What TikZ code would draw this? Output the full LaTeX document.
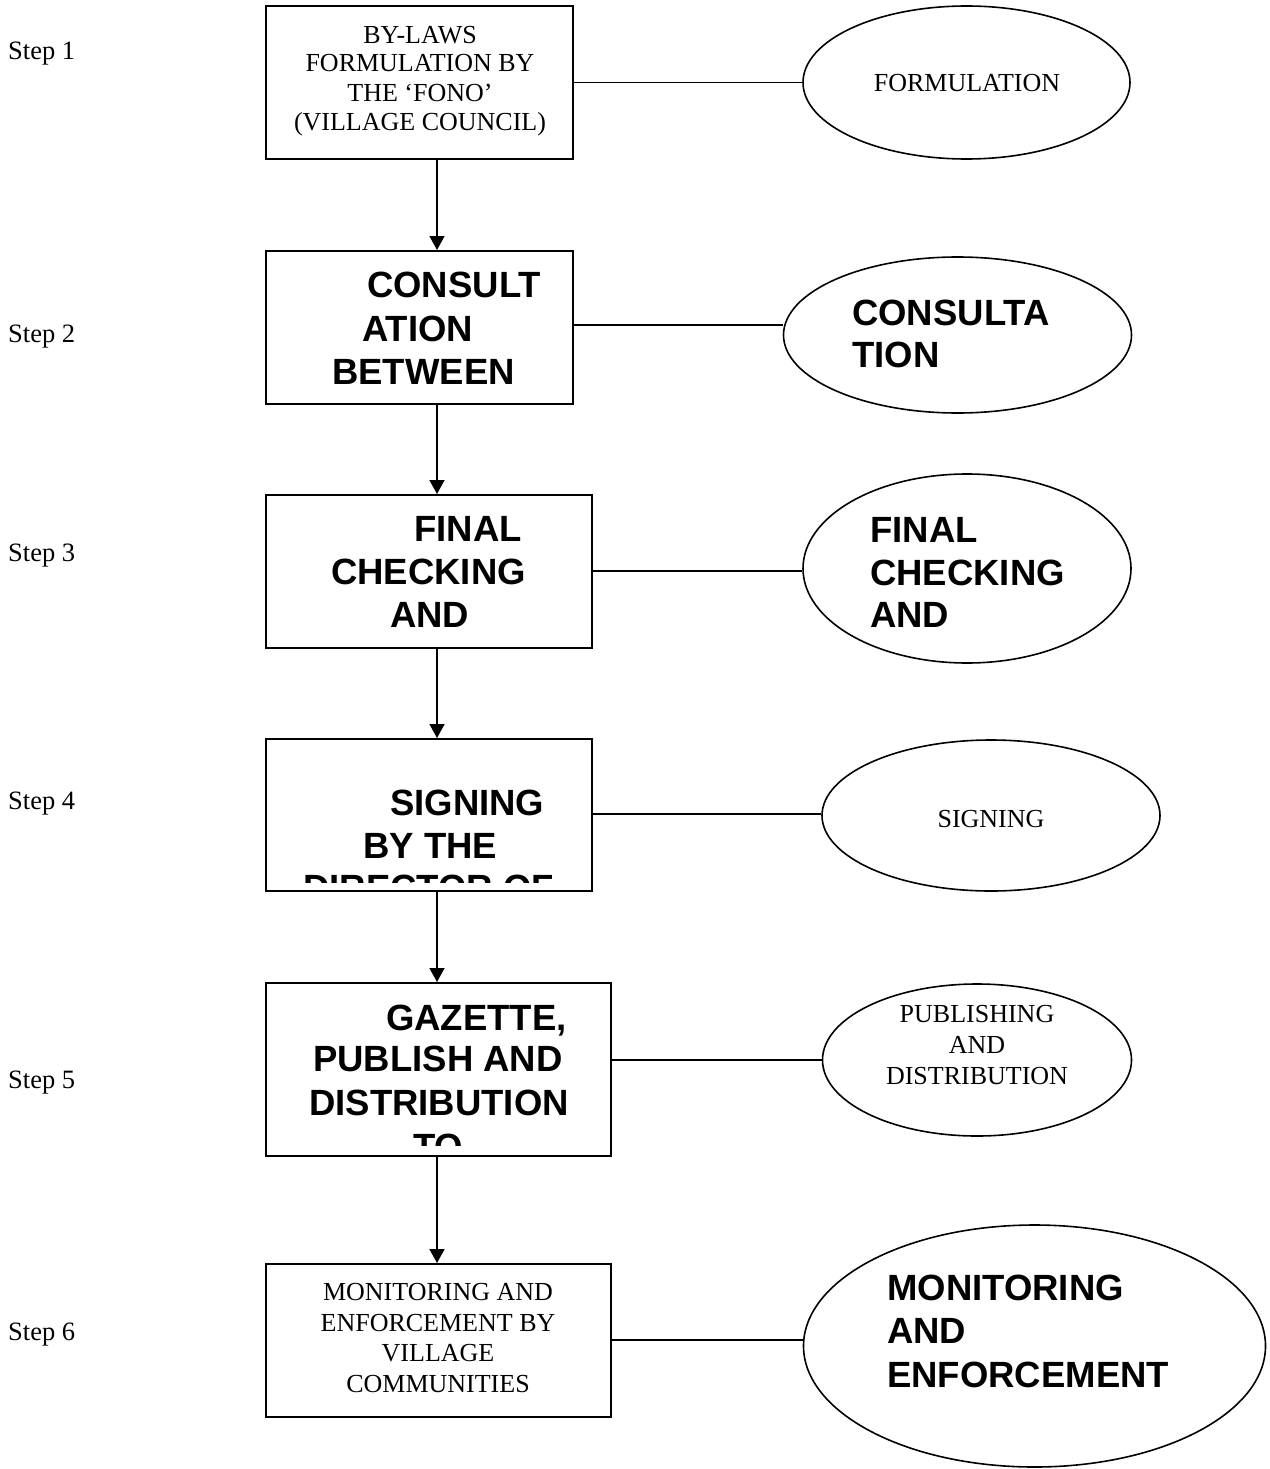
\documentclass[tikz,border=0pt]{standalone}
\usepackage{fontspec}
\setmainfont{Liberation Serif}
\setsansfont{Liberation Sans}
\usetikzlibrary{shapes.geometric,arrows.meta}
\begin{document}
\begin{tikzpicture}[x=1pt,y=-1pt,
  stepbox/.style={draw,line width=2pt,rectangle,inner sep=0pt},
  oval/.style={draw,line width=1.6pt,ellipse,inner sep=0pt},
  tr/.style={font=\fontsize{26}{29}\selectfont,inner sep=0pt,anchor=base},
  bl/.style={font=\fontsize{36.5}{42}\selectfont\sffamily\bfseries,inner sep=0pt,anchor=base west},
  stl/.style={font=\fontsize{26.5}{30}\selectfont,inner sep=0pt,anchor=base west},
  conn/.style={line width=1.6pt},
  arr/.style={line width=1.6pt,-{Triangle[width=15pt,length=14pt]}}]
\useasboundingbox[fill=white] (0,0) rectangle (1269,1469);

% boxes
\node[stepbox,minimum width=307pt,minimum height=153pt] (b1) at (419.5,82.5) {};
\node[stepbox,minimum width=307pt,minimum height=153pt] (b2) at (419.5,327.5) {};
\node[stepbox,minimum width=326pt,minimum height=153pt] (b3) at (429,571.5) {};
\node[stepbox,minimum width=326pt,minimum height=152pt] (b4) at (429,815) {};
\node[stepbox,minimum width=345pt,minimum height=173pt] (b5) at (438.5,1069.5) {};
\node[stepbox,minimum width=345pt,minimum height=153pt] (b6) at (438.5,1340.5) {};

% ellipses
\node[oval,minimum width=327pt,minimum height=153pt] (e1) at (966.5,82.5) {};
\node[oval,minimum width=348pt,minimum height=156pt] (e2) at (957.5,335) {};
\node[oval,minimum width=328pt,minimum height=189pt] (e3) at (967,568.5) {};
\node[oval,minimum width=338pt,minimum height=151pt] (e4) at (991,815.5) {};
\node[oval,minimum width=309pt,minimum height=152pt] (e5) at (977,1060) {};
\node[oval,minimum width=462pt,minimum height=242pt] (e6) at (1034.5,1346) {};

% arrows
\coordinate (ax) at (437,0);
\draw[arr] (ax |- b1.south) -- (ax |- b2.north);
\draw[arr] (ax |- b2.south) -- (ax |- b3.north);
\draw[arr] (ax |- b3.south) -- (ax |- b4.north);
\draw[arr] (ax |- b4.south) -- (ax |- b5.north);
\draw[arr] (ax |- b5.south) -- (ax |- b6.north);

% connectors
\draw[conn] (b1.east) -- (e1.west);
\draw[conn] (b2.east |- 0,325) -- (e2.west |- 0,325);
\draw[conn] (b3.east |- 0,571) -- (e3.west |- 0,571);
\draw[conn] (b4.east |- 0,814) -- (e4.west |- 0,814);
\draw[conn] (b5.east |- e5.west) -- (e5.west);
\draw[conn] (b6.east |- 0,1340) -- (e6.west |- 0,1340);

% step labels
\node[stl] (s1) at (8,60) {Step 1};
\node[stl] (s2) at (8,342) {Step 2};
\node[stl] (s3) at (8,561) {Step 3};
\node[stl] (s4) at (8,809) {Step 4};
\node[stl] (s5) at (8,1088) {Step 5};
\node[stl] (s6) at (8,1340) {Step 6};

% box 1 text
\node[tr] (t1a) at (420,44) {BY-LAWS};
\node[tr] (t1b) at (420,72) {FORMULATION BY};
\node[tr] (t1c) at (420,102) {THE ‘FONO’};
\node[tr] (t1d) at (420,131) {(VILLAGE COUNCIL)};

% box 2 text
\node[bl] (t2a) at (367,297) {CONSULT};
\node[bl] (t2b) at (362,341) {ATION};
\node[bl] (t2c) at (332,384) {BETWEEN};

% box 3 text
\node[bl] (t3a) at (414,541) {FINAL};
\node[bl] (t3b) at (331,584) {CHECKING};
\node[bl] (t3c) at (390,627) {AND};

% box 4 text (clipped)
\begin{scope}
\clip (266,739) rectangle (592,882);
\node[bl] (t4a) at (390,815) {SIGNING};
\node[bl] (t4b) at (363,858) {BY THE};
\node[bl] (t4c) at (303,900) {DIRECTOR OF};
\end{scope}

% box 5 text (clipped)
\begin{scope}
\clip (266,983) rectangle (611,1145);
\node[bl] (t5a) at (386,1030) {GAZETTE,};
\node[bl] (t5b) at (313,1071) {PUBLISH AND};
\node[bl] (t5c) at (309,1115) {DISTRIBUTION};
\node[bl] (t5d) at (413,1159) {TO};
\end{scope}

% box 6 text
\node[tr] (t6a) at (438,1300) {MONITORING AND};
\node[tr] (t6b) at (438,1331) {ENFORCEMENT BY};
\node[tr] (t6c) at (438,1361) {VILLAGE};
\node[tr] (t6d) at (438,1392) {COMMUNITIES};

% ellipse texts
\node[tr] (u1) at (967,92) {FORMULATION};
\node[bl] (u2a) at (852,325) {CONSULTA};
\node[bl] (u2b) at (852,367) {TION};
\node[bl] (u3a) at (870,542) {FINAL};
\node[bl] (u3b) at (870,585) {CHECKING};
\node[bl] (u3c) at (870,627) {AND};
\node[tr] (u4) at (991,827) {SIGNING};
\node[tr] (u5a) at (977,1022) {PUBLISHING};
\node[tr] (u5b) at (977,1053) {AND};
\node[tr] (u5c) at (977,1084) {DISTRIBUTION};
\node[bl] (u6a) at (887,1300) {MONITORING};
\node[bl] (u6b) at (887,1343) {AND};
\node[bl] (u6c) at (887,1387) {ENFORCEMENT};
\end{tikzpicture}
\end{document}
